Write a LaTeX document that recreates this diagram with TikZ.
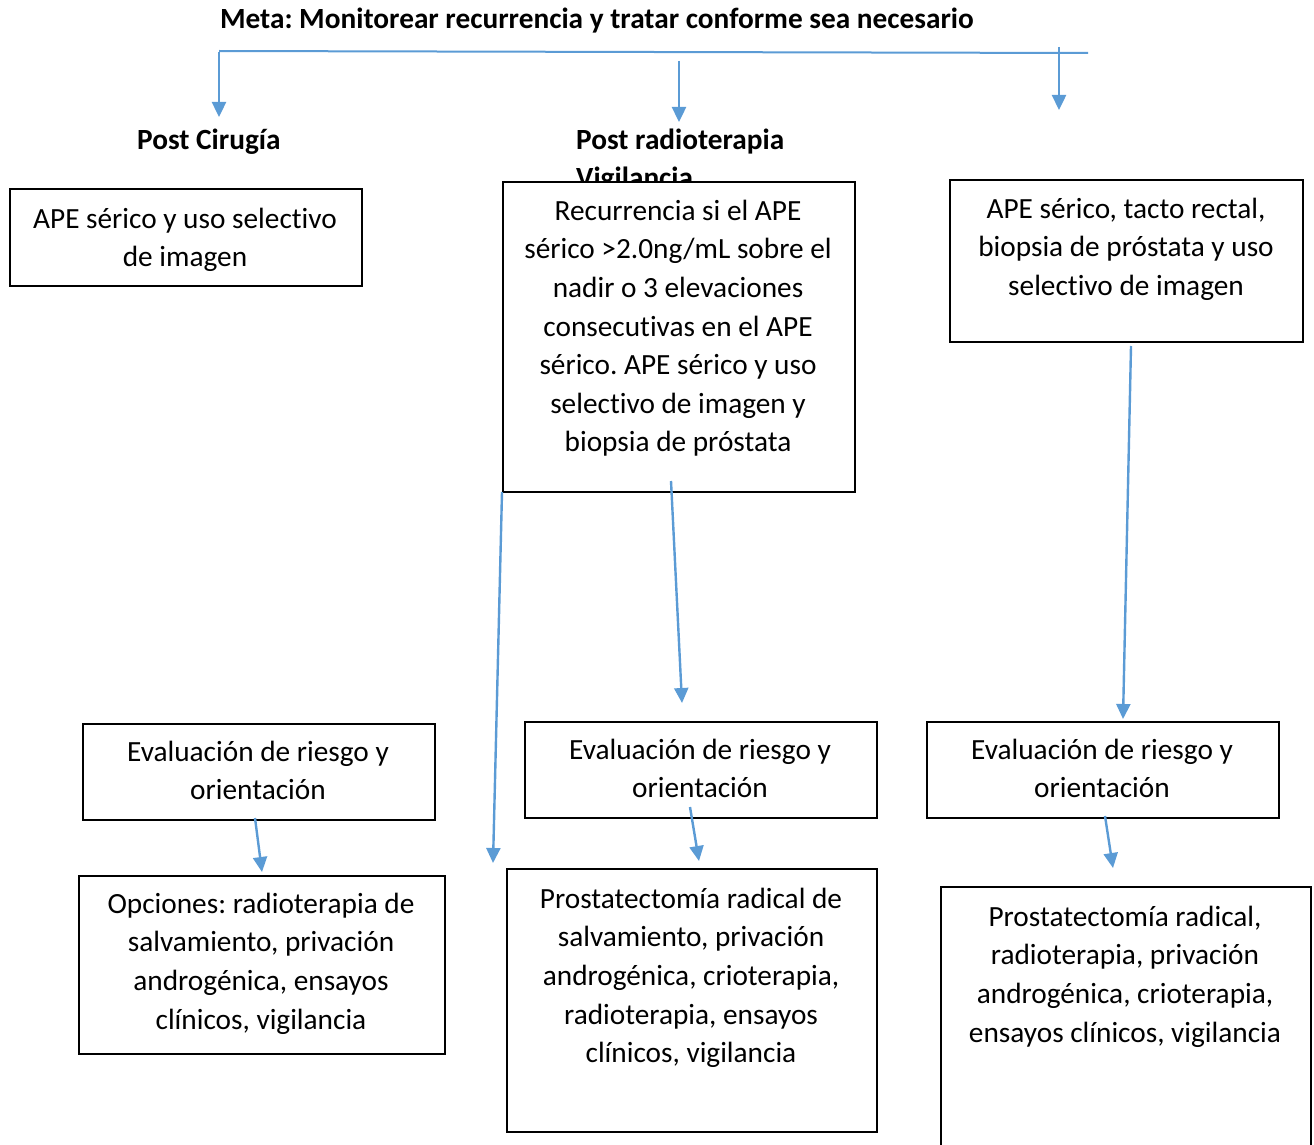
\documentclass[tikz,border=0pt]{standalone}
\usepackage{fontspec}
\setmainfont{Carlito}[Ligatures=CommonOff]
\frenchspacing
\usetikzlibrary{arrows.meta}
\definecolor{linkblue}{RGB}{91,155,213}
\begin{document}
\begin{tikzpicture}[x=1pt,y=-1pt,
  font=\fontsize{29.3}{38.6}\selectfont,
  box/.style={draw=black,line width=1.8pt,fill=white,inner sep=0pt,anchor=north west},
  txt/.style={align=center,inner sep=0pt,anchor=north},
  head/.style={font=\fontsize{29.3}{38.6}\selectfont\bfseries,inner sep=0pt,anchor=north west,align=left},
  flow/.style={draw=linkblue,line width=2.4pt,-{Triangle[width=14pt,length=15pt]}}]
\useasboundingbox (0,0) rectangle (1314,1145);
\clip (0,0) rectangle (1314,1145);

% heading and branch labels
\node[font=\fontsize{29.3}{38.6}\selectfont\bfseries,inner sep=0pt,anchor=base] (title) at (597,29)
  {Meta: Monitorear recurrencia y tratar conforme sea necesario};
\node[head] (lcir) at (137,122) {\strut Post Cirugía};
\node[head] (lrad) at (576,122) {\strut Post radioterapia\\Vigilancia};

% boxes
\node[box,minimum width=352pt,minimum height=97pt] (b1) at (9,188) {};
\node[box,minimum width=352pt,minimum height=310pt] (b2) at (502,181) {};
\node[box,minimum width=353pt,minimum height=162pt] (b3) at (949,179) {};
\node[box,minimum width=352pt,minimum height=96pt] (b4) at (82,723) {};
\node[box,minimum width=352pt,minimum height=96pt] (b5) at (524,721) {};
\node[box,minimum width=352pt,minimum height=96pt] (b6) at (926,721) {};
\node[box,minimum width=366pt,minimum height=178pt] (b7) at (78,875) {};
\node[box,minimum width=370pt,minimum height=263pt] (b8) at (506,868) {};
\node[box,minimum width=370pt,minimum height=290pt] (b9) at (940,886) {};

% box texts
\node[txt] (t1) at (185,201) {\strut APE sérico y uso selectivo\\de imagen};
\node[txt] (t2) at (678,193) {\strut Recurrencia si el APE\\sérico >2.0ng/mL sobre el\\nadir o 3 elevaciones\\consecutivas en el APE\\sérico. APE sérico y uso\\selectivo de imagen y\\biopsia de próstata};
\node[txt] (t3) at (1126,191) {\strut APE sérico, tacto rectal,\\biopsia de próstata y uso\\selectivo de imagen};
\node[txt] (t4) at (258,734) {\strut Evaluación de riesgo y\\orientación};
\node[txt] (t5) at (700,732) {\strut Evaluación de riesgo y\\orientación};
\node[txt] (t6) at (1102,732) {\strut Evaluación de riesgo y\\orientación};
\node[txt] (t7) at (261,886) {\strut Opciones: radioterapia de\\salvamiento, privación\\androgénica, ensayos\\clínicos, vigilancia};
\node[txt] (t8) at (691,881) {\strut Prostatectomía radical de\\salvamiento, privación\\androgénica, crioterapia,\\radioterapia, ensayos\\clínicos, vigilancia};
\node[txt] (t9) at (1125,899) {\strut Prostatectomía radical,\\radioterapia, privación\\androgénica, crioterapia,\\ensayos clínicos, vigilancia};

% connector end points
\coordinate (hl) at (219,51);
\coordinate (hr) at (1088,53);
\coordinate (a1s) at (219,52);   \coordinate (a1e) at (219,117);
\coordinate (a2s) at (679,61);   \coordinate (a2e) at (679,122);
\coordinate (a3s) at (1059,47);  \coordinate (a3e) at (1059,110);
\coordinate (a4s) at (502,492);  \coordinate (a4e) at (493,863);
\coordinate (a5s) at (671,481);  \coordinate (a5e) at (682,703);
\coordinate (a6s) at (690,807);  \coordinate (a6e) at (699,861);
\coordinate (a7s) at (255,818);  \coordinate (a7e) at (262,872);
\coordinate (a8s) at (1131,346); \coordinate (a8e) at (1123,719);
\coordinate (a9s) at (1105,816); \coordinate (a9e) at (1113,868);

% connectors
\draw[linkblue,line width=2pt] (hl) -- (hr);
\draw[flow] (a1s) -- (a1e);
\draw[flow] (a2s) -- (a2e);
\draw[flow] (a3s) -- (a3e);
\draw[flow] (a4s) -- (a4e);
\draw[flow] (a5s) -- (a5e);
\draw[flow] (a6s) -- (a6e);
\draw[flow] (a7s) -- (a7e);
\draw[flow] (a8s) -- (a8e);
\draw[flow] (a9s) -- (a9e);
\end{tikzpicture}
\end{document}
